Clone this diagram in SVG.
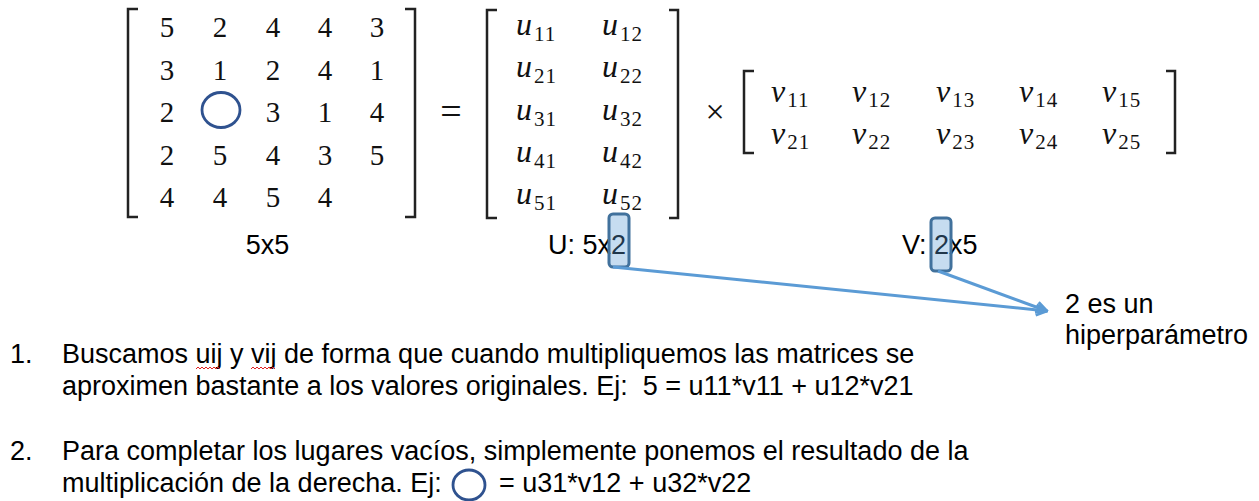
<svg xmlns="http://www.w3.org/2000/svg" width="1259" height="501" viewBox="0 0 1259 501">
<style>
.num{font-family:"Liberation Serif","DejaVu Serif",serif;font-size:29px;fill:#111;text-anchor:middle}
.mi{font-family:"Liberation Serif","DejaVu Serif",serif;font-style:italic;font-size:32px;fill:#111}
.sub{font-style:normal;font-size:21px;letter-spacing:1px}
.op{font-family:"Liberation Serif","DejaVu Serif",serif;fill:#111;text-anchor:middle}
.lbl{font-family:"Liberation Sans",Arial,sans-serif;font-size:27px;fill:#000}
.br{fill:none;stroke:#222;stroke-width:2.5}
.hl{fill:#5B9BD5;fill-opacity:.35;stroke:#41719C;stroke-width:3}
.conn{fill:none;stroke:#5B9BD5;stroke-width:3;marker-end:url(#arr)}
.circ{fill:none;stroke:#2F528F;stroke-width:2.8}
.sq{fill:none;stroke:#E02020;stroke-width:1}
</style>
<defs>
<marker id="arr" viewBox="0 0 10 10" refX="9" refY="5" markerWidth="4.5" markerHeight="4.5" orient="auto" markerUnits="strokeWidth">
<path d="M1,1 L9,5 L1,9" fill="none" stroke="#5B9BD5" stroke-width="2"/>
</marker>
</defs>
<rect width="1259" height="501" fill="#fff"/>

<g id="matrix-r">
<path class="br" d="M138,9 H128 V217 H138"/>
<path class="br" d="M405,9 H415 V217 H405"/>
<text class="num" x="167" y="37">5</text><text class="num" x="220" y="37">2</text><text class="num" x="273" y="37">4</text><text class="num" x="325" y="37">4</text><text class="num" x="377" y="37">3</text>
<text class="num" x="167" y="79.5">3</text><text class="num" x="220" y="79.5">1</text><text class="num" x="273" y="79.5">2</text><text class="num" x="325" y="79.5">4</text><text class="num" x="377" y="79.5">1</text>
<text class="num" x="167" y="122">2</text><text class="num" x="273" y="122">3</text><text class="num" x="325" y="122">1</text><text class="num" x="377" y="122">4</text>
<text class="num" x="167" y="164.5">2</text><text class="num" x="220" y="164.5">5</text><text class="num" x="273" y="164.5">4</text><text class="num" x="325" y="164.5">3</text><text class="num" x="377" y="164.5">5</text>
<text class="num" x="167" y="207">4</text><text class="num" x="220" y="207">4</text><text class="num" x="273" y="207">5</text><text class="num" x="325" y="207">4</text>
<ellipse class="circ" cx="221" cy="110" rx="19" ry="17.5"/>
<text class="lbl" x="267.5" y="254" text-anchor="middle">5x5</text>
</g>

<text class="op" x="451" y="124" font-size="38">=</text>

<g id="matrix-u">
<path class="br" d="M497,10 H487 V218 H497"/>
<path class="br" d="M669,10 H678 V218 H669"/>
<text class="mi" x="516" y="35">u<tspan class="sub" dx="2" dy="6">11</tspan></text>
<text class="mi" x="602" y="35">u<tspan class="sub" dx="2" dy="6">12</tspan></text>
<text class="mi" x="516" y="77">u<tspan class="sub" dx="2" dy="6">21</tspan></text>
<text class="mi" x="602" y="77">u<tspan class="sub" dx="2" dy="6">22</tspan></text>
<text class="mi" x="516" y="119.5">u<tspan class="sub" dx="2" dy="6">31</tspan></text>
<text class="mi" x="602" y="119.5">u<tspan class="sub" dx="2" dy="6">32</tspan></text>
<text class="mi" x="516" y="162">u<tspan class="sub" dx="2" dy="6">41</tspan></text>
<text class="mi" x="602" y="162">u<tspan class="sub" dx="2" dy="6">42</tspan></text>
<text class="mi" x="516" y="204">u<tspan class="sub" dx="2" dy="6">51</tspan></text>
<text class="mi" x="602" y="204">u<tspan class="sub" dx="2" dy="6">52</tspan></text>
<text class="lbl" x="548" y="254">U: 5x2</text>
<rect class="hl" x="609" y="214" width="20" height="53" rx="4"/>
</g>

<text class="op" x="715" y="123" font-size="34">×</text>

<g id="matrix-v">
<path class="br" d="M754,71 H744 V153 H754"/>
<path class="br" d="M1166,71 H1175 V153 H1166"/>
<text class="mi" x="771" y="102">v<tspan class="sub" dx="2" dy="5">11</tspan></text>
<text class="mi" x="852" y="102">v<tspan class="sub" dx="2" dy="5">12</tspan></text>
<text class="mi" x="936" y="102">v<tspan class="sub" dx="2" dy="5">13</tspan></text>
<text class="mi" x="1019" y="102">v<tspan class="sub" dx="2" dy="5">14</tspan></text>
<text class="mi" x="1102" y="102">v<tspan class="sub" dx="2" dy="5">15</tspan></text>
<text class="mi" x="771" y="144">v<tspan class="sub" dx="2" dy="5">21</tspan></text>
<text class="mi" x="852" y="144">v<tspan class="sub" dx="2" dy="5">22</tspan></text>
<text class="mi" x="936" y="144">v<tspan class="sub" dx="2" dy="5">23</tspan></text>
<text class="mi" x="1019" y="144">v<tspan class="sub" dx="2" dy="5">24</tspan></text>
<text class="mi" x="1102" y="144">v<tspan class="sub" dx="2" dy="5">25</tspan></text>
<text class="lbl" x="902" y="254">V: 2x5</text>
<rect class="hl" x="931" y="218" width="20" height="53" rx="4"/>
</g>

<g id="connectors">
<line class="conn" x1="613" y1="267" x2="1047" y2="311"/>
<line class="conn" x1="938" y1="271" x2="1047" y2="311"/>
</g>

<g id="note">
<text class="lbl" x="1065" y="313">2 es un</text>
<text class="lbl" x="1065" y="344">hiperparámetro</text>
</g>

<g id="list">
<text class="lbl" x="10" y="363">1.</text>
<text class="lbl" x="62" y="363">Buscamos uij y vij de forma que cuando multipliquemos las matrices se</text>
<path class="sq" d="M196,369 l2,-2 l2,2 l2,-2 l2,2 l2,-2 l2,2 l2,-2 l2,2 l2,-2 l2,2 l2,-2 l2,2"/>
<path class="sq" d="M251,369 l2,-2 l2,2 l2,-2 l2,2 l2,-2 l2,2 l2,-2 l2,2 l2,-2 l2,2 l2,-2 l2,2"/>
<text class="lbl" x="62" y="395" xml:space="preserve">aproximen bastante a los valores originales. Ej:  5 = u11*v11 + u12*v21</text>
<text class="lbl" x="10" y="460">2.</text>
<text class="lbl" x="62" y="460">Para completar los lugares vacíos, simplemente ponemos el resultado de la</text>
<text class="lbl" x="62" y="492">multiplicación de la derecha. Ej:</text>
<ellipse class="circ" cx="469" cy="485" rx="16" ry="15"/>
<text class="lbl" x="499" y="492">= u31*v12 + u32*v22</text>
</g>
</svg>
